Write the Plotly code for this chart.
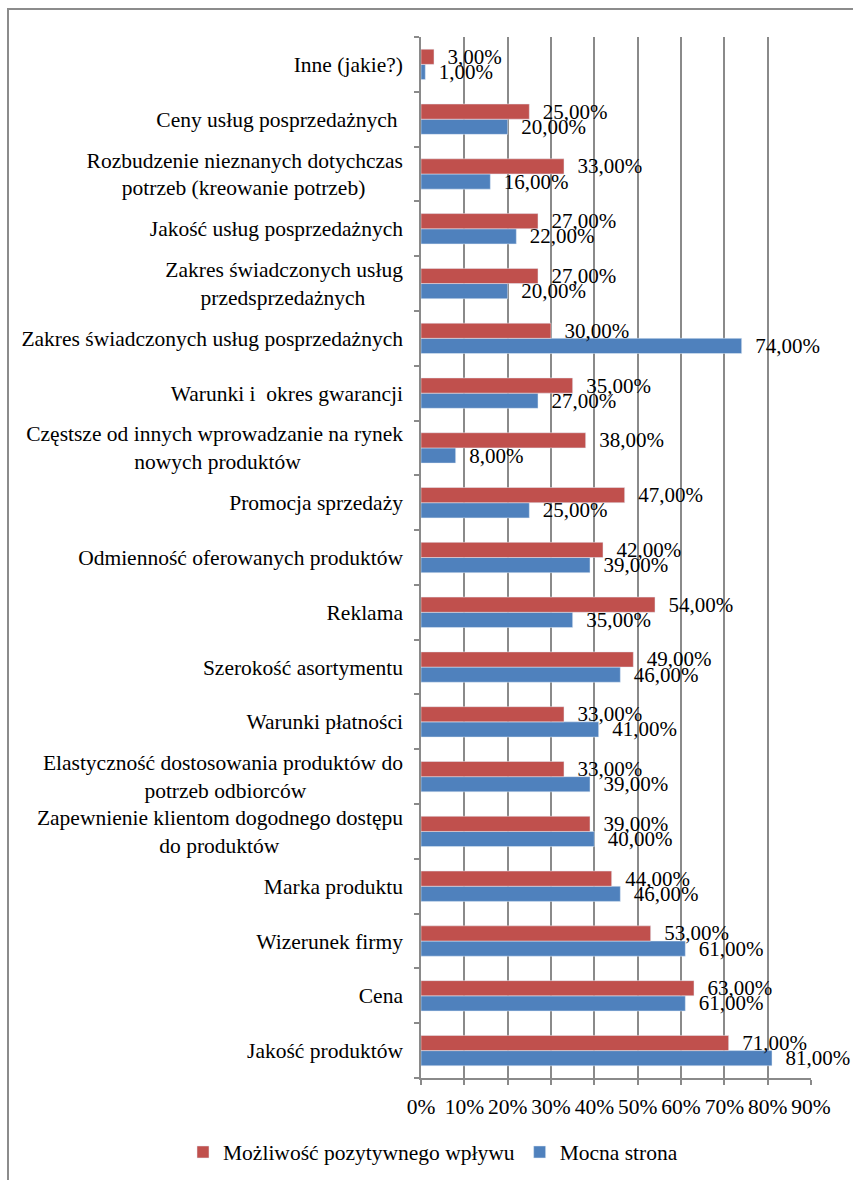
import plotly.graph_objects as go

# Categories listed from bottom to top of the chart
categories = [
    "Jakość produktów",
    "Cena",
    "Wizerunek firmy",
    "Marka produktu",
    "Zapewnienie klientom dogodnego dostępu<br>do produktów",
    "Elastyczność dostosowania produktów do<br>potrzeb odbiorców",
    "Warunki płatności",
    "Szerokość asortymentu",
    "Reklama",
    "Odmienność oferowanych produktów",
    "Promocja sprzedaży",
    "Częstsze od innych wprowadzanie na rynek<br>nowych produktów",
    "Warunki i  okres gwarancji",
    "Zakres świadczonych usług posprzedażnych",
    "Zakres świadczonych usług<br>przedsprzedażnych",
    "Jakość usług posprzedażnych",
    "Rozbudzenie nieznanych dotychczas<br>potrzeb (kreowanie potrzeb)",
    "Ceny usług posprzedażnych ",
    "Inne (jakie?)",
]

mozliwosc = [71, 63, 53, 44, 39, 33, 33, 49, 54, 42, 47, 38, 35, 30, 27, 27, 33, 25, 3]
mocna = [81, 61, 61, 46, 40, 39, 41, 46, 35, 39, 25, 8, 27, 74, 20, 22, 16, 20, 1]

x_ticks = [0, 10, 20, 30, 40, 50, 60, 70, 80, 90]
x_tick_labels = ["0%", "10%", "20%", "30%", "40%", "50%", "60%", "70%", "80%", "90%"]

# trailing non-breaking spaces to visually centre the second line of wrapped labels
second_line_pad = {4: 23, 5: 18, 11: 19, 14: 7, 16: 7}


def centre(label, pad):
    if "<br>" not in label:
        return label
    a, b = label.split("<br>")
    return a + "<br>" + b + "\u00a0" * pad


y_labels = [centre(c, second_line_pad.get(i, 0)) for i, c in enumerate(categories)]

RED = "#C0504D"
BLUE = "#4F81BD"
GRID = "#8a8a8a"
FONT = "Liberation Serif, Times New Roman, serif"
FS = 21.5

fig = go.Figure()
fig.add_trace(go.Bar(
    name="Mocna strona", y=y_labels, x=mocna, orientation="h",
    marker=dict(color=BLUE),
    texttemplate="\u00a0\u00a0%{x:.2f}%", textposition="outside",
    textfont=dict(family=FONT, size=21, color="black"),
    constraintext="none", cliponaxis=False,
))
fig.add_trace(go.Bar(
    name="Możliwość pozytywnego wpływu", y=y_labels, x=mozliwosc, orientation="h",
    marker=dict(color=RED),
    texttemplate="\u00a0\u00a0%{x:.2f}%", textposition="outside",
    textfont=dict(family=FONT, size=21, color="black"),
    constraintext="none", cliponaxis=False,
))

W, H = 853, 1180
L, R, T = 421, 42, 37
B = H - 1078
pw, ph = W - L - R, H - T - B

fig.update_layout(
    width=W, height=H,
    margin=dict(l=L, r=R, t=T, b=B, pad=0, autoexpand=False),
    paper_bgcolor="white", plot_bgcolor="white",
    barmode="group", bargap=0.446, bargroupgap=0,
    separators=",.",
    font=dict(family=FONT, size=FS, color="black"),
    showlegend=True,
    legend=dict(
        orientation="h", traceorder="reversed",
        x=(183 - L) / pw, xanchor="left",
        y=(H - B - 1152) / ph, yanchor="middle",
        font=dict(family=FONT, size=FS, color="black"),
        bgcolor="rgba(0,0,0,0)",
    ),
    xaxis=dict(
        range=[0, 90], tickvals=x_ticks, ticktext=x_tick_labels,
        showgrid=True, gridcolor=GRID, gridwidth=1.5,
        showline=True, linecolor=GRID, linewidth=1.5,
        ticks="outside", ticklen=5, tickcolor=GRID, tickwidth=1.5,
        ticklabelstandoff=3, automargin=False,
        zeroline=False, fixedrange=True,
    ),
    yaxis=dict(
        type="category", categoryorder="array", categoryarray=y_labels,
        tickson="boundaries", ticks="outside", ticklen=5,
        tickcolor=GRID, tickwidth=1.5, automargin=False,
        showgrid=False, showline=True, linecolor=GRID, linewidth=1.5,
        zeroline=False, ticklabelstandoff=12, fixedrange=True,
    ),
)

# outer frame of the chart area
fig.add_shape(type="rect", xref="paper", yref="paper",
              x0=(8 - L) / pw, x1=(W + 40 - L) / pw,
              y0=(H - B - (H + 40)) / ph, y1=(H - B - 9) / ph,
              line=dict(color="#8c8c8c", width=2), fillcolor="rgba(0,0,0,0)", layer="below")

fig.write_html("out.html", config={"displayModeBar": False},
               post_script="document.body.style.margin='0';")
